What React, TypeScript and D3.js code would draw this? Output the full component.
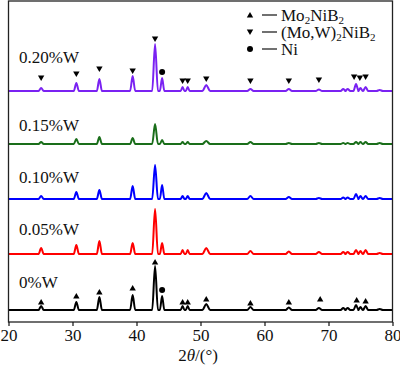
import React, { useEffect, useRef } from 'react';
import * as d3 from 'd3';

// peak positions (2θ, degrees) shared by all patterns
const peakPos = [25.1, 30.6, 34.2, 39.4, 42.9, 44.0, 47.2, 48.0, 50.9, 57.8, 63.8, 68.5, 72.3, 73.0, 74.3, 75.0, 75.8, 78.0];
const peakWidth = [0.4, 0.4, 0.4, 0.4, 0.45, 0.35, 0.3, 0.3, 0.6, 0.5, 0.5, 0.5, 0.4, 0.4, 0.4, 0.35, 0.4, 0.5];

// intensities (a.u.)
const h0 = [4, 8, 13, 15, 44, 14, 4, 4, 6, 3, 2.5, 2, 2, 2, 5, 3, 4, 1];
const h005 = [6, 9, 13, 11, 45, 11, 4, 4, 6, 3, 2.5, 2, 2, 2, 4, 3, 4, 1];
const h010 = [3, 7, 9, 13, 34, 14, 3, 3, 6, 3, 2, 1, 1.5, 1.5, 5, 3, 3, 1];
const h015 = [2, 5, 7, 6, 20, 4, 2, 2, 3, 2, 1, 1, 1, 1, 2, 2, 2, 1];
const h020 = [3, 8, 12, 15, 47, 13, 4, 4, 6, 2, 2, 1.5, 2, 2, 7, 3, 4, 1];

const sampleLabels = ['0%W', '0.05%W', '0.10%W', '0.15%W', '0.20%W'];
const sampleColors = ['#000000', '#ff0000', '#0000ff', '#1a6e1a', '#7a22f2'];
const sampleOffsets = [12, 68, 123, 178, 231];
const sampleHeights = [h0, h005, h010, h015, h020];

// phase markers: [2θ, level above baseline, type]
const markers0: [number, number, string][] = [
  [25.1, 8, 'up'], [30.6, 14, 'up'], [34.2, 18, 'up'], [39.4, 22, 'up'], [42.9, 48, 'up'],
  [44.0, 20, 'dot'], [47.2, 8, 'up'], [48.0, 8, 'up'], [50.9, 11, 'up'], [57.8, 7, 'up'],
  [63.8, 8, 'up'], [68.7, 11, 'up'], [74.4, 10, 'up'], [75.8, 9, 'up']
];
const markers020: [number, number, string][] = [
  [25.1, 13, 'down'], [30.6, 17, 'down'], [34.2, 22, 'down'], [39.4, 20, 'down'], [42.9, 52, 'down'],
  [44.0, 19, 'dot'], [47.2, 10, 'down'], [48.0, 10, 'down'], [50.9, 12, 'down'], [57.8, 10, 'down'],
  [63.8, 10, 'down'], [68.5, 11, 'down'], [74.0, 14, 'down'], [74.9, 13, 'down'], [75.8, 14, 'down']
];

const xTicks = [20, 30, 40, 50, 60, 70, 80];

const W = 400;
const H = 365;
const margin = { top: 1, right: 7.5, bottom: 43, left: 8.5 };
const FONT = '"Liberation Serif", "Times New Roman", serif';
// gap between each pattern's baseline and its label's text baseline
const labelGap = [22, 19, 16, 13, 28];

const marker = (type: string, x: number, y: number, key: string) => {
  if (type === 'dot') return <circle key={key} cx={x} cy={y} r={3} fill="#000" />;
  const s = 3.2;
  const pts = type === 'up'
    ? `${x - s},${y + s * 0.8} ${x + s},${y + s * 0.8} ${x},${y - s * 0.9}`
    : `${x - s},${y - s * 0.8} ${x + s},${y - s * 0.8} ${x},${y + s * 0.9}`;
  return <polygon key={key} points={pts} fill="#000" />;
};

export default function App() {
  const axisRef = useRef<SVGGElement>(null);

  const x = d3.scaleLinear().domain([20, 80]).range([margin.left, W - margin.right]);
  const y = d3.scaleLinear().domain([0, H - margin.top - margin.bottom]).range([H - margin.bottom, margin.top]);

  const line = d3.line<[number, number]>()
    .x(d => x(d[0]))
    .y(d => y(d[1]))
    .curve(d3.curveMonotoneX);

  const pattern = (heights: number[], offset: number) => {
    const pts: [number, number][] = [[20, offset]];
    peakPos.forEach((p, i) => {
      pts.push([p - peakWidth[i], offset], [p, offset + heights[i]], [p + peakWidth[i], offset]);
    });
    pts.push([80, offset]);
    return line(pts) || '';
  };

  useEffect(() => {
    if (!axisRef.current) return;
    const g = d3.select(axisRef.current);
    g.selectAll('*').remove();
    g.call(d3.axisBottom(x).tickValues(xTicks).tickSize(4).tickSizeOuter(0).tickPadding(3).tickFormat(d => `${d}`))
      .call(s => s.select('.domain').remove());
    g.selectAll('.tick line').attr('stroke', '#111').attr('stroke-width', 1.2);
    g.selectAll('.tick text')
      .style('font-family', FONT)
      .style('font-size', '17px')
      .attr('fill', '#111');
  }, []);

  const legendRows = [
    { type: 'up', y: 15, main: ['Mo', '2', 'NiB', '2'] },
    { type: 'down', y: 32, main: ['(Mo,W)', '2', 'NiB', '2'] },
    { type: 'dot', y: 49, main: ['Ni'] }
  ];

  return (
    <svg width={W} height={H} style={{ position: 'absolute', left: 0, top: 0, background: '#fff' }}>
      {sampleLabels.map((lab, i) => (
        <g key={lab}>
          <path d={pattern(sampleHeights[i], sampleOffsets[i])} fill="none" stroke={sampleColors[i]} strokeWidth={2} strokeLinejoin="round" />
          <text x={19} y={y(sampleOffsets[i]) - labelGap[i]} fontFamily={FONT} fontSize={17} fill="#111">{lab}</text>
        </g>
      ))}
      {markers0.map((m, i) => marker(m[2], x(m[0]), y(sampleOffsets[0] + m[1]), `m0-${i}`))}
      {markers020.map((m, i) => marker(m[2], x(m[0]), y(sampleOffsets[4] + m[1]), `m4-${i}`))}

      {legendRows.map((r, i) => (
        <g key={i}>
          {marker(r.type, 250, r.y, `lg-${i}`)}
          <line x1={262} x2={277} y1={r.y} y2={r.y} stroke="#111" strokeWidth={1.2} />
          <text x={281} y={r.y + 5.5} fontFamily={FONT} fontSize={17} fill="#111">
            {r.main.map((t, j) => j % 2 === 1
              ? <tspan key={j} fontSize={11} dy={3}>{t}</tspan>
              : <tspan key={j} dy={j > 0 ? -3 : 0}>{t}</tspan>)}
          </text>
        </g>
      ))}

      <rect x={margin.left} y={margin.top} width={W - margin.left - margin.right} height={H - margin.top - margin.bottom}
        fill="none" stroke="#222" strokeWidth={1.3} />
      <g ref={axisRef} transform={`translate(0,${H - margin.bottom})`} />
      <text x={198} y={361} textAnchor="middle" fontFamily={FONT} fontSize={17} fill="#111">
        2<tspan fontStyle="italic">θ</tspan>/(°)
      </text>
    </svg>
  );
}
